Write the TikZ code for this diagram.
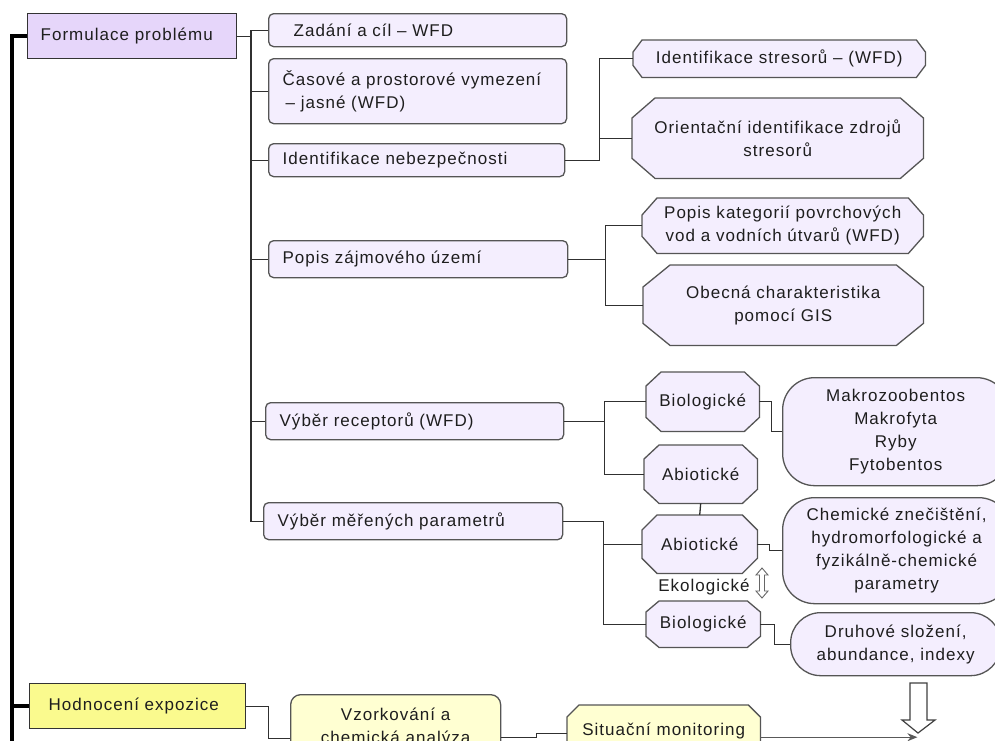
\documentclass[tikz,border=0pt]{standalone}
\usepackage{fontspec}
\setmainfont{Liberation Sans}[LetterSpace=6]
\usetikzlibrary{arrows.meta}
\definecolor{purpleA}{HTML}{E6D6FA}
\definecolor{lav}{HTML}{F4EEFE}
\definecolor{yellowA}{HTML}{FAFA8E}
\definecolor{ylight}{HTML}{FFFFD2}
\definecolor{bordc}{HTML}{555555}
\definecolor{linec}{HTML}{303030}
\definecolor{textc}{HTML}{1E1E1E}
\pgfdeclarelayer{background}
\pgfsetlayers{background,main}
\newcommand\octo[4]{%
 \begin{pgfonlayer}{background}
 \filldraw[draw=bordc, line width=1.3pt, fill=#4]
  ([xshift=#2]#1.north west) -- ([xshift=-#2]#1.north east) --
  ([yshift=-#3]#1.north east) -- ([yshift=#3]#1.south east) --
  ([xshift=-#2]#1.south east) -- ([xshift=#2]#1.south west) --
  ([yshift=#3]#1.south west) -- ([yshift=-#3]#1.north west) -- cycle;
 \end{pgfonlayer}}
\begin{document}
\begin{tikzpicture}[x=1pt,y=1pt,
 txt/.style={font=\fontsize{17}{23}\selectfont, text=textc},
 base/.style={txt, anchor=north west, inner ysep=0pt, draw=bordc, line width=1.3pt},
 lvone/.style={base, fill=#1, draw=black!80, inner xsep=13pt, align=left},
 lvtwo/.style={base, fill=lav, rounded corners=5pt, inner xsep=14pt, align=left},
 oct/.style={txt, anchor=north west, inner sep=0pt, align=center},
 pill/.style={base, fill=lav, rounded corners=#1, align=center, inner xsep=0pt},
 conn/.style={draw=linec, line width=1.3pt},
 trunk/.style={draw=black, line width=3.5pt}]
\useasboundingbox (0,0) rectangle (995,-740);
\begin{pgfonlayer}{background}
\fill[white] (0,0) rectangle (995,-740);
\end{pgfonlayer}
\clip (0,0) rectangle (995,-740);

% level 1
\node[lvone=purpleA, minimum width=209pt, minimum height=45pt, text width=183pt] (form) at (27,-13) {Formulace problému};
\node[lvone=yellowA, inner xsep=19pt, minimum width=216pt, minimum height=45pt, text width=178pt] (hod) at (29,-683) {Hodnocení expozice};

% level 2
\node[lvtwo, minimum width=298pt, minimum height=33pt, text width=270pt] (zad) at (268,-13) {\hspace*{11pt}Zadání a cíl – WFD};
\node[lvtwo, minimum width=298pt, minimum height=65pt, text width=270pt] (cas) at (268,-58) {Časové a prostorové vymezení\\\hspace*{3pt}– jasné (WFD)};
\node[lvtwo, minimum width=296pt, minimum height=33pt, text width=268pt] (idn) at (268,-143) {Identifikace nebezpečnosti};
\node[lvtwo, minimum width=299pt, minimum height=37pt, text width=271pt] (pop) at (268,-240) {Popis zájmového území};
\node[lvtwo, minimum width=298pt, minimum height=37pt, text width=270pt] (vyr) at (265,-402) {Výběr receptorů (WFD)};
\node[lvtwo, minimum width=299pt, minimum height=37pt, text width=271pt] (vym) at (263,-502) {Výběr měřených parametrů};

% level 3 octagons
\node[oct, minimum width=292pt, minimum height=37pt] (str) at (633,-40) {Identifikace stresorů – (WFD)};
\octo{str}{9pt}{12pt}{lav}
\node[oct, minimum width=291pt, minimum height=80pt] (ori) at (632,-98) {Orientační identifikace zdrojů\\stresorů};
\octo{ori}{23pt}{20pt}{lav}
\node[oct, minimum width=281pt, minimum height=55pt] (kat) at (642,-198) {Popis kategorií povrchových\\vod a vodních útvarů (WFD)};
\octo{kat}{15pt}{17pt}{lav}
\node[oct, minimum width=280pt, minimum height=80pt] (gis) at (643,-265) {Obecná charakteristika\\pomocí GIS};
\octo{gis}{27pt}{22pt}{lav}
\node[oct, minimum width=113pt, minimum height=59pt] (bioA) at (646,-372) {Biologické};
\octo{bioA}{15pt}{14pt}{lav}
\node[oct, minimum width=113pt, minimum height=58pt] (abiA) at (644,-445) {Abiotické};
\octo{abiA}{15pt}{14pt}{lav}
\node[oct, minimum width=115pt, minimum height=58pt] (abiB) at (642,-515) {Abiotické};
\octo{abiB}{15pt}{15pt}{lav}
\node[oct, minimum width=114pt, minimum height=46pt] (bioB) at (646,-601) {Biologické};
\octo{bioB}{13pt}{11pt}{lav}

% level 4
\node[pill=32pt, minimum width=226pt, minimum height=108pt] (mak) at (782,-377) {Makrozoobentos\\Makrofyta\\Ryby\\Fytobentos};
\node[pill=32pt, minimum width=228pt, minimum height=106pt] (chem) at (782,-497) {Chemické znečištění,\\hydromorfologické a\\fyzikálně-chemické\\parametry};
\node[pill=30pt, minimum width=210pt, minimum height=63pt] (dru) at (790,-612) {Druhové složení,\\abundance, indexy};

\node[txt, inner sep=0pt] (eko) at (704,-587) {Ekologické};

% bottom
\node[base, fill=ylight, rounded corners=10pt, align=center, minimum width=210pt, minimum height=66pt] (vzo) at (290,-694) {Vzorkování a\\chemická analýza};
\node[oct, minimum width=193pt, minimum height=52pt] (sit) at (567,-705) {Situační monitoring};
\octo{sit}{12pt}{12pt}{ylight}

% connectors
\coordinate (tx) at (251,0);
\draw[conn] (form.east) -- (form.east -| tx) -- (zad.west -| tx) -- (vym.west -| tx) -- (vym.west);
\foreach \n in {zad,cas,idn,pop,vyr} \draw[conn] (\n.west) -- (\n.west -| tx);
\draw[conn] (idn.east) -- ++(34,0) |- (str.west);
\draw[conn] (idn.east) -- ++(34,0) |- (ori.west);
\draw[conn] (pop.east) -- ++(37,0) |- (kat.west);
\draw[conn] (pop.east) -- ++(37,0) |- (gis.west);
\draw[conn] (vyr.east) -- ++(40,0) |- (bioA.west);
\draw[conn] (vyr.east) -- ++(40,0) |- (abiA.west);
\draw[conn] (vym.east) -- ++(40,0) |- (abiB.west);
\draw[conn] (vym.east) -- ++(40,0) |- (bioB.west);
\draw[conn] (bioA.east) -- ++(12,0) |- (mak.west);
\draw[conn] (abiB.east) -- ++(12,0) |- (chem.west);
\draw[conn] (bioB.east) -- ++(14,0) |- (dru.west);
\draw[conn] (abiA.south) -- (abiB.north);
\draw[conn] (hod.east) -- ++(22,0) |- ([yshift=-11pt]vzo.west);
\draw[conn] ([yshift=-10pt]vzo.east) -- ++(35,0) |- ([yshift=-2pt]sit.west);
\draw[draw=black!65, line width=1.3pt, -{Stealth[length=10pt,width=8pt]}] ([yshift=-6pt]sit.east) -- ++(157,0);

% trunk
\coordinate (mx) at (12,0);
\draw[trunk] (form.west) -- (form.west -| mx) -- (12,-745);
\draw[trunk] (hod.west) -- (hod.west -| mx);

% hollow double arrow (Ekologicke)
\draw[fill=white, draw=black!60, line width=0.9pt]
 (762,-568) -- (768,-575) -- (764.5,-575) -- (764.5,-591) -- (768,-591) -- (762,-598)
 -- (756,-591) -- (759.5,-591) -- (759.5,-575) -- (756,-575) -- cycle;
% big hollow down arrow
\draw[fill=white, draw=black!75, line width=1.2pt]
 (910,-683) -- (927,-683) -- (927,-720) -- (935,-720) -- (918,-733) -- (902,-720) -- (910,-720) -- cycle;
\end{tikzpicture}
\end{document}
